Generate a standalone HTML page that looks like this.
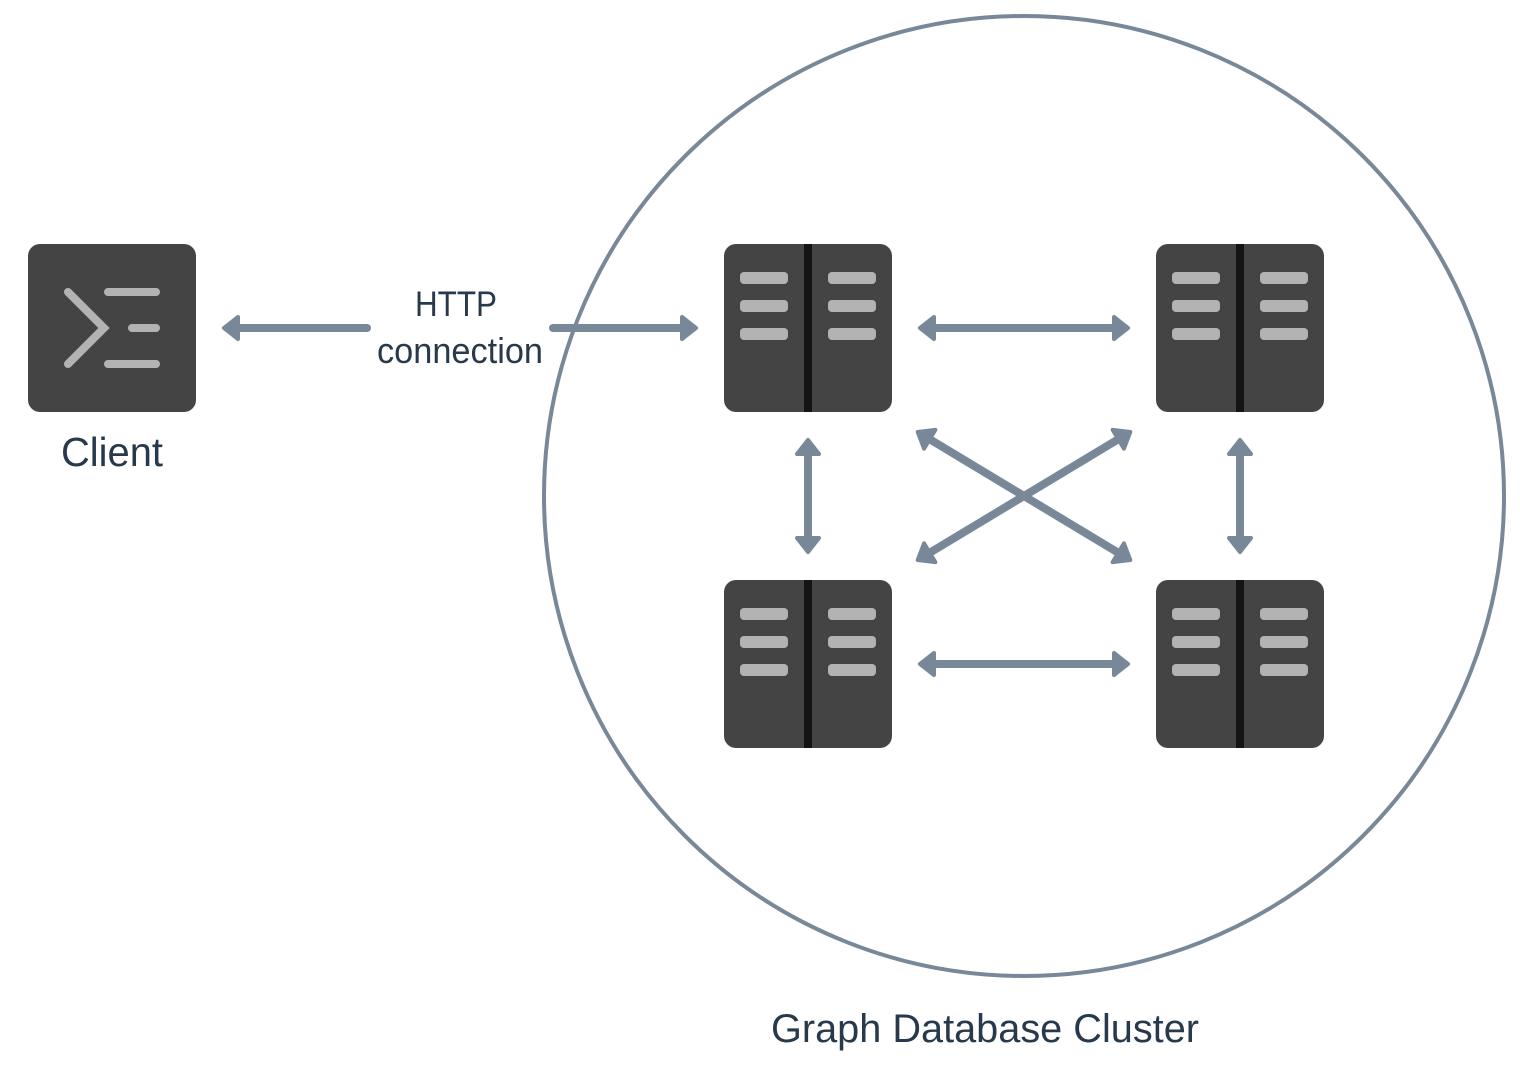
<!DOCTYPE html>
<html>
<head>
<meta charset="utf-8">
<style>
html,body{margin:0;padding:0;background:#fff;width:1520px;height:1072px;overflow:hidden}
svg{display:block}
text{font-family:"Liberation Sans",sans-serif;fill:#27394a}
</style>
</head>
<body>
<svg width="1520" height="1072" viewBox="0 0 1520 1072" xmlns="http://www.w3.org/2000/svg">
<defs>
<polygon id="h" points="-2,0 -16,-11 -16,11" fill="#788898" stroke="#788898" stroke-width="4" stroke-linejoin="round"/>
<g id="srv">
<rect x="0" y="0" width="168" height="168" rx="12" fill="#444444"/>
<rect x="80" y="0" width="8" height="168" fill="#141414"/>
<g fill="#b3b3b3">
<rect x="16" y="28" width="48" height="12" rx="4"/><rect x="16" y="56" width="48" height="12" rx="4"/><rect x="16" y="84" width="48" height="12" rx="4"/>
<rect x="104" y="28" width="48" height="12" rx="4"/><rect x="104" y="56" width="48" height="12" rx="4"/><rect x="104" y="84" width="48" height="12" rx="4"/>
</g>
</g>
</defs>

<circle cx="1024" cy="496" r="480" fill="none" stroke="#788898" stroke-width="4"/>

<!-- Client -->
<rect x="28" y="244" width="168" height="168" rx="12" fill="#444444"/>
<path d="M68 292 L104 328 L68 364" fill="none" stroke="#b3b3b3" stroke-width="8" stroke-linecap="round" stroke-linejoin="miter"/>
<g fill="#b3b3b3">
<rect x="104" y="288" width="56" height="8" rx="4"/>
<rect x="128" y="324" width="32" height="8" rx="4"/>
<rect x="104" y="360" width="56" height="8" rx="4"/>
</g>

<!-- Servers -->
<use href="#srv" x="724" y="244"/>
<use href="#srv" x="1156" y="244"/>
<use href="#srv" x="724" y="580"/>
<use href="#srv" x="1156" y="580"/>

<!-- Connectors -->
<g stroke="#788898" stroke-width="8" fill="none">
<path d="M232 328 H367" stroke-linecap="round"/>
<path d="M553 328 H688" stroke-linecap="round"/>
<path d="M930 328 H1118"/>
<path d="M930 664 H1118"/>
<path d="M808 450 V542"/>
<path d="M1240 450 V542"/>
<path d="M928 438.2 L1120 553.8"/>
<path d="M1120 438.2 L928 553.8"/>
</g>

<use href="#h" transform="translate(222 328) rotate(180)"/>
<use href="#h" transform="translate(698 328)"/>
<use href="#h" transform="translate(918 328) rotate(180)"/>
<use href="#h" transform="translate(1130 328)"/>
<use href="#h" transform="translate(918 664) rotate(180)"/>
<use href="#h" transform="translate(1130 664)"/>
<use href="#h" transform="translate(808 438) rotate(-90)"/>
<use href="#h" transform="translate(808 554) rotate(90)"/>
<use href="#h" transform="translate(1240 438) rotate(-90)"/>
<use href="#h" transform="translate(1240 554) rotate(90)"/>
<use href="#h" transform="translate(916 431) rotate(211)"/>
<use href="#h" transform="translate(1132 561) rotate(31)"/>
<use href="#h" transform="translate(1132 431) rotate(-31)"/>
<use href="#h" transform="translate(916 561) rotate(149)"/>

<!-- Labels -->
<text x="61" y="466" font-size="41" textLength="102" lengthAdjust="spacingAndGlyphs">Client</text>
<text x="415" y="316" font-size="35" textLength="82" lengthAdjust="spacingAndGlyphs">HTTP</text>
<text x="377" y="363" font-size="36" textLength="166" lengthAdjust="spacingAndGlyphs">connection</text>
<text x="771" y="1042" font-size="40" textLength="428" lengthAdjust="spacingAndGlyphs">Graph Database Cluster</text>
</svg>
</body>
</html>
